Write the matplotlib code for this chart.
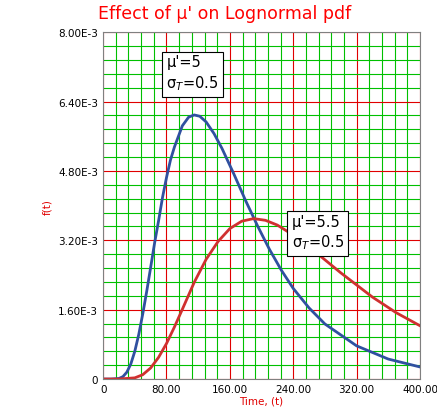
import matplotlib
matplotlib.use('Agg')
import matplotlib.pyplot as plt
from matplotlib.ticker import MultipleLocator, FuncFormatter

# lognormal pdf values read/estimated from the chart
t_a = [0, 10, 20, 25, 30, 35, 40, 45, 50, 55, 60, 65, 70, 75, 80, 85, 90, 100, 108, 115, 122,
       130, 140, 150, 165, 180, 195, 210, 225, 240, 260, 280, 320, 360, 400]
f_a = [0, 0, 1.3e-5, 5.6e-5, 1.6e-4, 3.5e-4, 6.41e-4, 1.03e-3, 1.5e-3, 2.02e-3, 2.575e-3, 3.14e-3,
       3.65e-3, 4.19e-3, 4.646e-3, 5.05e-3, 5.35e-3, 5.84e-3, 6.04e-3, 6.09e-3, 6.06e-3,
       5.93e-3, 5.66e-3, 5.32e-3, 4.73e-3, 4.11e-3, 3.53e-3, 2.99e-3, 2.51e-3, 2.09e-3,
       1.64e-3, 1.27e-3, 7.66e-4, 4.61e-4, 2.79e-4]
t_b = [0, 20, 40, 50, 60, 70, 80, 90, 100, 115, 130, 145, 160, 175, 190, 205, 220, 240, 260,
       300, 340, 370, 400]
f_b = [0, 0, 2.8e-5, 1.0e-4, 2.56e-4, 5.0e-4, 8.19e-4, 1.2e-3, 1.608e-3, 2.23e-3, 2.76e-3,
       3.17e-3, 3.47e-3, 3.64e-3, 3.70e-3, 3.66e-3, 3.55e-3, 3.32e-3, 3.05e-3, 2.45e-3,
       1.89e-3, 1.53e-3, 1.23e-3]

fig = plt.figure(figsize=(4.37, 4.14), dpi=100)
ax = fig.add_axes([0.236, 0.082, 0.725, 0.838])
ax.set_xlim(0, 400)
ax.set_ylim(0, 8e-3)
ax.xaxis.set_major_locator(MultipleLocator(80))
ax.xaxis.set_minor_locator(MultipleLocator(16))
ax.yaxis.set_major_locator(MultipleLocator(1.6e-3))
ax.yaxis.set_minor_locator(MultipleLocator(0.32e-3))
ax.grid(which='minor', color='#00c000', lw=0.8)
ax.grid(which='major', color='#e00000', lw=0.8)
ax.set_axisbelow(True)
ax.tick_params(which='both', length=0, labelsize=7.5)
ax.xaxis.set_major_formatter(FuncFormatter(lambda v, p: '0' if v == 0 else '%.2f' % v))
ax.yaxis.set_major_formatter(FuncFormatter(lambda v, p: '0' if v == 0 else ('%.2E' % v).replace('E-0', 'E-')))
for s in ax.spines.values():
    s.set_color('#808080')

ax.plot(t_a, f_a, color='#3050a0', lw=2)
ax.plot(t_b, f_b, color='#d03030', lw=2)

ax.set_xlabel('Time, (t)', color='#e00000', fontsize=7.5, labelpad=1)
ax.set_ylabel('f(t)', color='#e00000', fontsize=7.5)
fig.text(0.225, 0.955, "Effect of μ' on Lognormal pdf", color='#ff0000', fontsize=12.5)

box = dict(boxstyle='square,pad=0.3', fc='white', ec='black', lw=0.8)
ax.text(80, 6.72e-3, "μ'=5\nσ$_T$=0.5", fontsize=10.5, bbox=box, linespacing=1.3)
ax.text(238, 3.05e-3, "μ'=5.5\nσ$_T$=0.5", fontsize=10.5, bbox=box, linespacing=1.3)

plt.savefig('out.png')
